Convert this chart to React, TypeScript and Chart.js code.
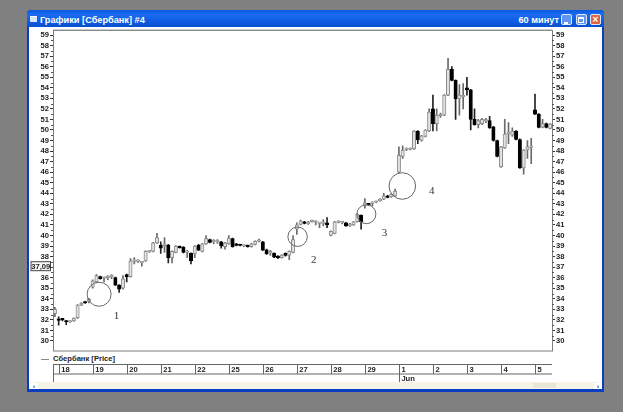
import React, { useEffect, useRef } from "react";
import { Chart, registerables } from "chart.js";

Chart.register(...registerables);

const opens = [32.6,32.1,32.1,31.85,31.8,31.9,32.2,33.4,33.7,33.75,35.1,35.6,36.1,35.95,36.0,36.1,36.0,35.3,35.0,36.3,36.1,37.55,37.55,37.4,37.6,38.45,38.5,39.3,39.1,39.0,39.1,37.9,38.4,38.95,38.9,38.4,38.3,38.25,39.1,38.5,39.2,39.6,39.4,39.4,39.4,38.95,39.2,39.7,39.2,39.1,39.0,39.05,38.95,39.15,39.45,39.4,38.65,38.35,38.3,38.05,37.9,38.3,38.1,38.4,40.6,41.05,41.3,41.1,41.3,41.25,41.15,41.15,41.2,40.0,40.2,41.25,41.2,41.2,40.9,41.0,41.3,41.9,42.8,43.0,43.05,43.15,43.3,43.45,43.75,43.65,43.75,46.0,47.5,48.15,48.15,48.2,49.9,49.0,49.4,49.9,52.0,50.6,51.35,51.4,53.3,55.75,54.7,52.95,53.15,54.0,53.8,51.0,50.5,50.6,50.85,50.9,50.3,49.0,46.5,48.3,49.65,49.5,49.9,49.1,46.4,48.1,48.35,51.9,51.5,50.25,50.6,50.15];
const closes = [33.0,31.95,32.0,31.8,31.85,32.15,33.4,33.6,33.6,33.95,35.7,36.2,35.9,36.0,36.05,36.15,35.3,34.9,35.9,36.1,37.6,37.6,37.6,37.45,38.5,38.5,39.3,39.8,38.8,39.2,37.9,38.5,39.0,38.85,38.4,38.45,37.6,39.0,38.6,39.2,39.7,39.35,39.45,39.45,39.0,39.3,39.75,38.95,39.05,39.05,39.05,38.95,39.2,39.45,39.5,38.6,38.25,38.4,37.95,37.9,38.15,38.1,38.5,39.6,41.0,41.4,41.15,41.3,41.4,41.3,41.2,41.2,41.0,40.4,41.3,41.3,41.25,40.9,41.1,41.3,42.0,41.3,43.1,42.9,43.1,43.2,43.45,43.75,43.6,43.9,44.2,47.6,48.1,48.2,48.2,49.9,49.05,49.45,50.0,51.7,50.6,51.4,51.4,53.3,55.75,54.7,52.95,53.3,53.2,53.8,51.0,50.5,50.9,51.0,50.9,50.2,49.0,47.5,48.4,49.6,49.7,49.9,49.1,46.4,48.1,48.4,48.4,51.5,50.25,50.6,50.25,50.55];
const highs = [33.2,32.3,32.15,31.95,31.9,32.2,33.45,33.65,33.75,34.05,35.8,36.3,36.15,36.05,36.2,36.3,36.05,35.35,36.2,36.35,37.8,37.9,37.7,37.5,38.55,38.6,39.35,40.2,39.4,39.8,39.15,38.55,39.05,39.0,38.95,38.6,38.35,39.05,39.15,39.25,40.0,39.65,39.6,39.6,39.45,39.35,40.0,39.75,39.25,39.15,39.1,39.1,39.25,39.5,39.65,39.45,38.7,38.6,38.35,38.1,38.2,38.35,38.55,40.0,41.2,41.45,41.35,41.35,41.45,41.4,41.25,41.5,41.7,40.45,41.35,41.4,41.35,41.25,41.15,41.35,42.05,41.95,43.5,43.05,43.2,43.25,43.5,44.0,43.8,43.95,44.4,48.4,48.5,48.3,48.3,49.95,49.95,49.5,50.05,52.0,53.3,52.0,51.6,53.35,56.8,56.0,54.75,54.3,54.4,55.0,53.85,52.0,51.0,51.1,51.1,51.3,50.35,49.05,48.45,51.0,50.7,50.2,49.95,49.15,48.15,49.0,49.2,53.4,51.55,51.0,50.65,50.6];
const lows = [32.3,31.5,31.9,31.55,31.75,31.85,32.15,33.35,33.55,33.6,35.0,35.55,35.85,35.6,35.8,35.9,35.25,34.6,34.9,35.6,36.05,37.3,37.45,37.1,37.55,38.4,38.45,39.25,38.3,38.4,37.4,37.4,38.35,38.8,38.35,37.9,37.3,37.9,38.55,38.45,39.15,39.3,39.2,39.25,38.8,38.7,39.15,38.9,39.0,39.0,38.95,38.9,38.9,39.1,39.4,38.55,38.2,38.1,37.9,37.8,37.85,38.05,37.7,38.35,40.1,41.0,41.1,41.05,41.25,41.0,40.75,40.9,40.75,39.95,40.15,41.2,41.1,40.85,40.85,40.95,41.25,40.6,42.6,42.85,42.8,43.1,43.25,43.4,43.55,43.6,43.7,45.95,47.3,48.05,48.1,48.15,48.7,48.95,49.35,49.85,49.9,49.9,51.2,51.35,53.25,54.65,51.0,51.4,52.0,53.3,50.0,50.45,50.2,50.5,50.7,50.15,48.95,47.45,46.45,48.25,48.7,49.4,49.05,46.35,45.8,47.3,46.8,51.45,50.2,50.2,50.2,50.1];

const dayTicks = [1,10,19,28,37,46,55,64,73,82,91,100,109,118,127];
const dayLabels = ["18","19","20","21","22","25","26","27","28","29",["1","Jun"],"2","3","4","5"];
const priceTicks = [59,58,57,56,55,54,53,52,51,50,49,48,47,46,45,44,43,42,41,40,39,38,37,36,35,34,33,32,31,30];
const lastPrice = 37.09;
const lastPriceText = "37,09";
const seriesName = "Сбербанк [Price]";
const windowTitle = "Графики [Сбербанк] #4";
const periodText = "60 минут";

const circleIndex = [11.7, 64.2, 82.4, 91.9];
const circlePrice = [34.43, 39.88, 42.02, 44.69];
const circleRadius = [12, 9.7, 9.5, 13.3];
const noteIndex = [16.3, 68.5, 87.2, 99.7];
const notePrice = [32.4, 37.67, 40.27, 44.2];
const noteText = ["1", "2", "3", "4"];

const LABEL_FONT = { family: "'Liberation Sans'", size: 7.6, weight: "bold" as const, lineHeight: 1.2 };

const decorPlugin = {
  id: "decor",
  beforeDatasetsDraw(chart: any) {
    const { ctx, chartArea: a, scales } = chart;
    ctx.save();
    ctx.strokeStyle = "#7c7c7c";
    ctx.lineWidth = 1;
    ctx.strokeRect(a.left + 0.5, a.top, a.right - a.left, a.bottom - a.top);
    ctx.fillStyle = "#999";
    ctx.fillRect(a.left, a.top - 1, a.right - a.left, 1);

    // half-unit minor ticks on both price axes
    ctx.strokeStyle = "#555";
    ctx.beginPath();
    for (const v of priceTicks) {
      const y = Math.round(scales.y.getPixelForValue(v + 0.5)) + 0.5;
      if (v >= 59) continue;
      ctx.moveTo(a.left - 2, y);
      ctx.lineTo(a.left, y);
      ctx.moveTo(a.right, y);
      ctx.lineTo(a.right + 2, y);
    }
    ctx.stroke();

    // date band
    const top = a.bottom + 13.5;
    const mid = a.bottom + 23;
    const low = a.bottom + 31;
    ctx.strokeStyle = "#666";
    ctx.beginPath();
    ctx.moveTo(a.left, top);
    ctx.lineTo(a.right, top);
    ctx.moveTo(a.left, mid);
    ctx.lineTo(a.right, mid);
    ctx.moveTo(a.left + 0.5, top);
    ctx.lineTo(a.left + 0.5, low);
    dayTicks.forEach((d, i) => {
      const x = Math.round(scales.x.getPixelForValue(d)) + 0.5;
      ctx.moveTo(x, top);
      ctx.lineTo(x, Array.isArray(dayLabels[i]) ? low : mid);
    });
    ctx.stroke();
    ctx.restore();
  },
  afterDatasetsDraw(chart: any) {
    const { ctx, chartArea: a, scales } = chart;
    ctx.save();
    // numbered notes
    ctx.font = "11px 'Liberation Serif'";
    ctx.fillStyle = "#333";
    ctx.textAlign = "center";
    ctx.textBaseline = "middle";
    noteText.forEach((t, i) => {
      ctx.fillText(t, scales.x.getPixelForValue(noteIndex[i]), scales.y.getPixelForValue(notePrice[i]));
    });
    // last price badge
    const y = scales.y.getPixelForValue(lastPrice);
    ctx.fillStyle = "#f4f4f4";
    ctx.strokeStyle = "#444";
    ctx.lineWidth = 1;
    ctx.fillRect(a.left - 22, y - 4.5, 19.5, 9);
    ctx.strokeRect(a.left - 22, y - 4.5, 19.5, 9);
    ctx.fillStyle = "#222";
    ctx.font = "bold 7.6px 'Liberation Sans'";
    ctx.textAlign = "center";
    ctx.fillText(lastPriceText, a.left - 12.2, y + 0.5);
    ctx.restore();
  },
};

function yAxis(position: "left" | "right", width: number) {
  return {
    type: "linear" as const,
    position,
    min: 29.05,
    max: 59.43,
    afterBuildTicks: (s: any) => {
      s.ticks = priceTicks.map((value) => ({ value }));
    },
    afterFit: (s: any) => {
      s.width = width;
    },
    grid: { drawOnChartArea: false, tickLength: 3, tickColor: "#333", tickWidth: 1 },
    border: { display: false },
    ticks: {
      padding: 1,
      color: "#222",
      font: LABEL_FONT,
      autoSkip: false,
      callback: (v: any) => (position === "left" && v === 37 ? "" : String(v)),
    },
  };
}

export default function App() {
  const ref = useRef<HTMLCanvasElement>(null);

  useEffect(() => {
    const isUp = (i: number) => closes[i] >= opens[i];
    const chart = new Chart(ref.current as HTMLCanvasElement, {
      type: "bar",
      data: {
        datasets: [
          {
            type: "scatter",
            label: "notes",
            data: circleIndex.map((x, i) => ({ x, y: circlePrice[i] })),
            pointRadius: circleRadius,
            pointBackgroundColor: "rgba(0,0,0,0)",
            pointBorderColor: "#666",
            pointBorderWidth: 1,
            order: 0,
          },
          {
            label: "body",
            data: opens.map((o, i) => ({ x: i, y: [o, closes[i]] })),
            barThickness: 3.4,
            minBarLength: 1.5,
            grouped: false,
            borderSkipped: false,
            borderWidth: 1,
            borderColor: (c: any) => (isUp(c.dataIndex) ? "#8c8c8c" : "#000"),
            backgroundColor: (c: any) => (isUp(c.dataIndex) ? "#e2e2e2" : "#000"),
            order: 1,
          },
          {
            label: "wick",
            data: highs.map((h, i) => ({ x: i, y: [lows[i], h] })),
            barThickness: 1,
            grouped: false,
            borderWidth: 0,
            backgroundColor: (c: any) => (isUp(c.dataIndex) ? "#6a6a6a" : "#222"),
            order: 2,
          },
        ] as any,
      },
      options: {
        animation: false,
        responsive: false,
        devicePixelRatio: 1,
        layout: { padding: { top: 30.5, left: 0, right: 0, bottom: 0 } },
        plugins: { legend: { display: false }, tooltip: { enabled: false } },
        scales: {
          x: {
            type: "linear",
            offset: false,
            min: -0.5,
            max: 131.5,
            afterBuildTicks: (s: any) => {
              s.ticks = dayTicks.map((value) => ({ value }));
            },
            afterFit: (s: any) => {
              s.height = 61;
            },
            grid: { display: false, offset: false },
            border: { display: false },
            ticks: {
              autoSkip: false,
              maxRotation: 0,
              align: "start",
              labelOffset: 2.5,
              padding: 6,
              color: "#222",
              font: LABEL_FONT,
              callback: (v: any) => dayLabels[dayTicks.indexOf(v)],
            },
          },
          y: yAxis("left", 53),
          yr: yAxis("right", 71),
        } as any,
      },
      plugins: [decorPlugin],
    } as any);
    return () => chart.destroy();
  }, []);

  const abs = (l: number, t: number, w: number, h: number, extra: React.CSSProperties = {}): React.CSSProperties => ({
    position: "absolute",
    left: l,
    top: t,
    width: w,
    height: h,
    ...extra,
  });
  const btn = (l: number, bg: string, glyph: React.ReactNode) => (
    <div
      style={abs(l, 14, 11, 11, {
        background: bg,
        border: "1px solid #dfe8fb",
        boxSizing: "border-box",
        borderRadius: 2,
      })}
    >
      {glyph}
    </div>
  );

  return (
    <div style={{ position: "fixed", left: 0, top: 0, width: 623, height: 412, overflow: "hidden", background: "#808080" }}>
      <div style={abs(27, 10, 577, 382, { background: "#0a3dbf", borderRadius: "4px 4px 0 0" })} />
      <div style={abs(29, 27, 573, 362, { background: "#fff" })} />
      <div
        style={abs(27, 10, 577, 17, {
          background: "linear-gradient(to bottom,#0a58e4 0%,#1b6cf0 25%,#0f5fe6 60%,#0a4fd0 100%)",
          borderRadius: "4px 4px 0 0",
        })}
      />
      <div style={abs(30, 16, 7, 6, { background: "#d8e4f8", borderTop: "1px solid #fff", boxSizing: "border-box" })} />
      <div
        style={abs(40, 12.5, 200, 14, {
          color: "#fff",
          font: "bold 9.2px/14px 'Liberation Sans'",
          whiteSpace: "nowrap",
        })}
      >
        {windowTitle}
      </div>
      <div
        style={abs(480, 12.5, 79, 14, {
          color: "#fff",
          font: "bold 9.2px/14px 'Liberation Sans'",
          textAlign: "right",
          whiteSpace: "nowrap",
        })}
      >
        {periodText}
      </div>
      {btn(561, "#5f95ee", <div style={abs(2, 7, 4, 2, { background: "#fff" })} />)}
      {btn(575.5, "#5f95ee", <div style={abs(1.5, 1.5, 6, 6, { border: "1px solid #fff", borderTopWidth: 2, boxSizing: "border-box" })} />)}
      {btn(
        590,
        "#e0633c",
        <div style={abs(0, -1, 9, 11, { color: "#fff", font: "bold 10px/11px 'Liberation Sans'", textAlign: "center" })}>×</div>,
      )}

      <div style={abs(29, 382, 573, 7, { background: "#f6f3e6" })} />
      <div style={abs(30, 383, 8, 6, { background: "#fff", color: "#000", font: "bold 6px/6px 'Liberation Sans'", textAlign: "center" })}>‹</div>
      <div style={abs(533, 382.5, 23, 5.5, { background: "#e9e6d6" })} />
      <div style={abs(594, 383, 8, 6, { background: "#fff", color: "#000", font: "bold 6px/6px 'Liberation Sans'", textAlign: "center" })}>›</div>

      <div style={abs(41, 359, 8, 1, { background: "#8a8a8a" })} />
      <div style={abs(53, 354, 120, 10, { color: "#222", font: "bold 7.6px/10px 'Liberation Sans'", whiteSpace: "nowrap" })}>
        {seriesName}
      </div>

      <canvas ref={ref} width={623} height={412} style={{ position: "absolute", left: 0, top: 0, display: "block" }} />
    </div>
  );
}
